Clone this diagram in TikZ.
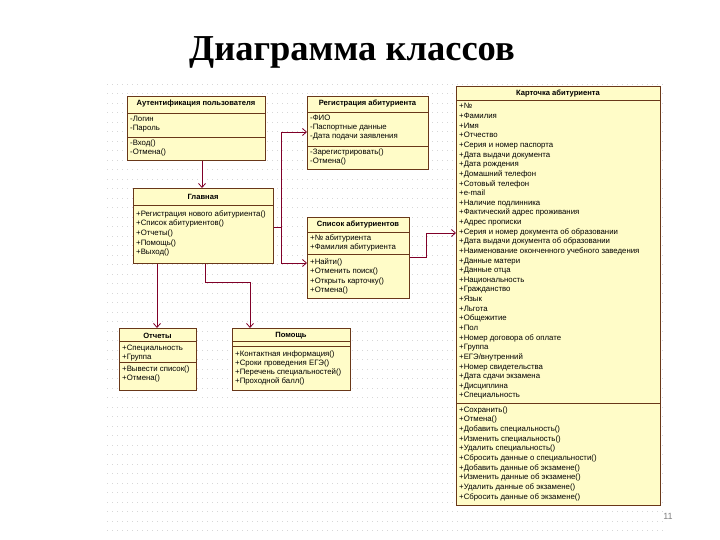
\documentclass[tikz,border=0pt]{standalone}
\usepackage{fontspec}
\setmainfont{Liberation Serif}
\newfontfamily\umlfont{Liberation Sans}
\usetikzlibrary{arrows.meta}
\definecolor{boxfill}{RGB}{255,252,200}
\definecolor{boxline}{RGB}{105,55,25}
\definecolor{connc}{RGB}{128,0,40}
\definecolor{gridc}{RGB}{215,215,215}
\begin{document}
\begin{tikzpicture}[x=1pt,y=-1pt,
  classbox/.style={draw=boxline, fill=boxfill, line width=0.8pt, anchor=north west, inner sep=0pt, rectangle},
  hdr/.style={font=\umlfont\bfseries\fontsize{7.6}{9}\selectfont, inner sep=0pt, anchor=center},
  item/.style={font=\umlfont\fontsize{7.8}{9}\selectfont, inner sep=0pt, anchor=west, text height=5.6pt, text depth=1.6pt},
  sepline/.style={draw=boxline, line width=0.6pt},
  conn/.style={draw=connc, line width=0.8pt, -{Straight Barb[length=4pt,width=7pt]}},
]
\useasboundingbox (0,0) rectangle (720,540);
\fill[white] (0,0) rectangle (720,540);
% background dot grid
\foreach \yy in {84,93.5,...,535}
  \draw[gridc, line width=0.7pt, dash pattern=on 0.7pt off 4.3pt] (107,\yy) -- (664,\yy);

% title
\node[font=\bfseries\fontsize{36.5}{40}\selectfont, anchor=base, inner sep=0pt] (title) at (352,61) {Диаграмма классов};

% ---------- Authentication ----------
\node[classbox, minimum width=138pt, minimum height=64pt] (auth) at (127,96) {};
\node[hdr] (authH) at (196,104) {Аутентификация пользователя};
\draw[sepline] (auth.west |- 0,113) -- (auth.east |- 0,113);
\draw[sepline] (auth.west |- 0,137) -- (auth.east |- 0,137);
\foreach \t [count=\i from 0] in {-Логин,-Пароль}
  \node[item] (authA\i) at (130,{120+9*\i}) {\t};
\foreach \t [count=\i from 0] in {-Вход(),-Отмена()}
  \node[item] (authM\i) at (130,{144+9*\i}) {\t};

% ---------- Registration ----------
\node[classbox, minimum width=121pt, minimum height=73pt] (reg) at (307,96) {};
\node[hdr] (regH) at (367.5,104) {Регистрация абитуриента};
\draw[sepline] (reg.west |- 0,112) -- (reg.east |- 0,112);
\draw[sepline] (reg.west |- 0,146) -- (reg.east |- 0,146);
\foreach \t [count=\i from 0] in {-ФИО,-Паспортные данные,-Дата подачи заявления}
  \node[item] (regA\i) at (310,{119+9*\i}) {\t};
\foreach \t [count=\i from 0] in {-Зарегистрировать(),-Отмена()}
  \node[item] (regM\i) at (310,{152.5+9*\i}) {\t};

% ---------- Main ----------
\node[classbox, minimum width=140pt, minimum height=75pt] (main) at (133,188) {};
\node[hdr] (mainH) at (203,196.5) {Главная};
\draw[sepline] (main.west |- 0,205) -- (main.east |- 0,205);
\foreach \t [count=\i from 0] in {+Регистрация нового абитуриента(),+Список абитуриентов(),+Отчеты(),+Помощь(),+Выход()}
  \node[item] (mainM\i) at (136,{214+9.7*\i}) {\t};

% ---------- Applicants list ----------
\node[classbox, minimum width=102pt, minimum height=81pt] (list) at (307,217) {};
\node[hdr] (listH) at (358,225) {Список абитуриентов};
\draw[sepline] (list.west |- 0,232) -- (list.east |- 0,232);
\draw[sepline] (list.west |- 0,254) -- (list.east |- 0,254);
\foreach \t [count=\i from 0] in {+№ абитуриента,+Фамилия абитуриента}
  \node[item] (listA\i) at (310,{238.5+8.7*\i}) {\t};
\foreach \t [count=\i from 0] in {+Найти(),+Отменить поиск(),+Открыть карточку(),+Отмена()}
  \node[item] (listM\i) at (310,{262+9.5*\i}) {\t};

% ---------- Card ----------
\node[classbox, minimum width=204pt, minimum height=419pt] (card) at (456,86) {};
\node[hdr] (cardH) at (558,93.5) {Карточка абитуриента};
\draw[sepline] (card.west |- 0,100) -- (card.east |- 0,100);
\draw[sepline] (card.west |- 0,403) -- (card.east |- 0,403);
\foreach \t [count=\i from 0] in {+№,+Фамилия,+Имя,+Отчество,+Серия и номер паспорта,+Дата выдачи документа,+Дата рождения,+Домашний телефон,+Сотовый телефон,+e-mail,+Наличие подлинника,+Фактический адрес проживания,+Адрес прописки,+Серия и номер документа об образовании,+Дата выдачи документа об образовании,+Наименование оконченного учебного заведения,+Данные матери,+Данные отца,+Национальность,+Гражданство,+Язык,+Льгота,+Общежитие,+Пол,+Номер договора об оплате,+Группа,+ЕГЭ/внутренний,+Номер свидетельства,+Дата сдачи экзамена,+Дисциплина,+Специальность}
  \node[item] (cardA\i) at (459,{107+9.63*\i}) {\t};
\foreach \t [count=\i from 0] in {+Сохранить(),+Отмена(),+Добавить специальность(),+Изменить специальность(),+Удалить специальность(),+Сбросить данные о специальности(),+Добавить данные об экзамене(),+Изменить данные об экзамене(),+Удалить данные об экзамене(),+Сбросить данные об экзамене()}
  \node[item] (cardM\i) at (459,{410+9.67*\i}) {\t};

% ---------- Reports ----------
\node[classbox, minimum width=77pt, minimum height=62pt] (rep) at (119,328) {};
\node[hdr] (repH) at (157.5,335.5) {Отчеты};
\draw[sepline] (rep.west |- 0,341) -- (rep.east |- 0,341);
\draw[sepline] (rep.west |- 0,362) -- (rep.east |- 0,362);
\foreach \t [count=\i from 0] in {+Специальность,+Группа}
  \node[item] (repA\i) at (122,{348+9*\i}) {\t};
\foreach \t [count=\i from 0] in {+Вывести список(),+Отмена()}
  \node[item] (repM\i) at (122,{369+9*\i}) {\t};

% ---------- Help ----------
\node[classbox, minimum width=118pt, minimum height=62pt] (help) at (232,328) {};
\node[hdr] (helpH) at (291,335.5) {Помощь};
\draw[sepline] (help.west |- 0,341) -- (help.east |- 0,341);
\draw[sepline] (help.west |- 0,346) -- (help.east |- 0,346);
\foreach \t [count=\i from 0] in {+Контактная информация(),+Сроки проведения ЕГЭ(),+Перечень специальностей(),+Проходной балл()}
  \node[item] (helpM\i) at (235,{354+9.2*\i}) {\t};

% ---------- connectors ----------
\coordinate (j1) at (281,227);
\coordinate (j2) at (426,257);
\coordinate (j3) at (205,282);
\draw[conn] (auth.south -| 202,0) -- (main.north -| 202,0);
\draw[conn] (main.east |- j1) -- (j1) |- (reg.west |- 0,132);
\draw[conn] (j1) |- (list.west |- 0,263);
\draw[conn] (list.east |- j2) -- (j2) |- (card.west |- 0,233);
\draw[conn] (main.south -| 157,0) -- (rep.north -| 157,0);
\draw[conn] (main.south -| j3) -- (j3) -| (help.north -| 250,0);

% page number
\node[font=\umlfont\fontsize{9}{10}\selectfont, text=gray, inner sep=0pt] (pg) at (668,516) {11};
\end{tikzpicture}
\end{document}
